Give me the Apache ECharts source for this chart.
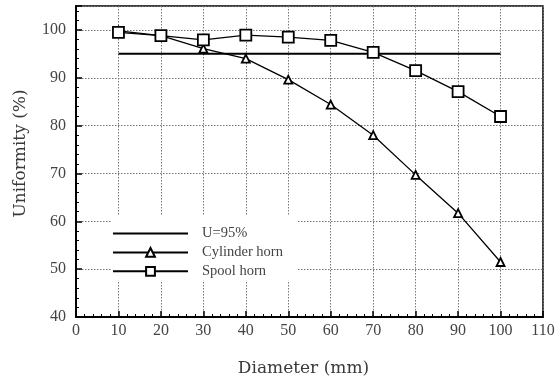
<!DOCTYPE html>
<html>
<head>
<meta charset="utf-8">
<script src="https://cdn.jsdelivr.net/npm/echarts@6/dist/echarts.min.js"></script>
<style>
  html, body { margin: 0; padding: 0; background: #fff; }
  #chart { width: 558px; height: 381px; }
</style>
</head>
<body>
<div id="chart"></div>
<script>
// Horn diameter (mm)
const diameters = [10, 20, 30, 40, 50, 60, 70, 80, 90, 100];
// Uniformity (%) for each horn type
const cylinderHorn = [99.8, 98.8, 96.1, 94.0, 89.6, 84.4, 78.0, 69.7, 61.7, 51.5];
const spoolHorn = [99.5, 98.8, 97.9, 98.9, 98.5, 97.8, 95.3, 91.5, 87.1, 81.9];
// Reference threshold line U = 95%
const thresholdX = [10, 100];
const thresholdY = [95, 95];

const seriesNames = ['U=95%', 'Cylinder horn', 'Spool horn'];
const serifFont = '"Liberation Serif", "DejaVu Serif", serif';
const titleFont = '"DejaVu Serif", "Liberation Serif", serif';
const textColor = '#444';

const chart = echarts.init(document.getElementById('chart'));

const pairs = (xs, ys) => xs.map((x, i) => [x, ys[i]]);

chart.setOption({
  animation: false,
  backgroundColor: '#fff',
  grid: {
    left: 76, right: 15, top: 6, bottom: 64,
    outerBoundsMode: 'none',
    show: true, borderColor: '#000', borderWidth: 1.5, backgroundColor: 'transparent'
  },
  legend: {
    orient: 'vertical',
    left: 111, top: 215,
    padding: [11, 14, 2, 1],
    backgroundColor: '#fff',
    itemWidth: 75, itemHeight: 11,
    itemGap: 3.9,
    data: [
      // plain line sample for the threshold
      { name: seriesNames[0], icon: 'path://M0,0H75V2H0Z', itemStyle: { color: '#000' } },
      { name: seriesNames[1] },
      { name: seriesNames[2] }
    ],
    textStyle: { fontFamily: serifFont, fontSize: 14.5, color: textColor, lineHeight: 11, padding: [0, 0, 0, 9] }
  },
  xAxis: {
    type: 'value', min: 0, max: 110, interval: 10,
    name: 'Diameter (mm)', nameLocation: 'middle', nameGap: 43,
    nameTextStyle: { fontFamily: titleFont, fontSize: 17, color: '#3a3a3a', padding: [0, 12, 0, 0] },
    axisLine: { show: true, lineStyle: { color: '#000', width: 2 } },
    axisTick: { show: true, inside: true, length: 6, lineStyle: { color: '#000', width: 1.5 } },
    minorTick: { show: true, splitNumber: 5, length: 3, lineStyle: { color: '#000', width: 1 } },
    axisLabel: { fontFamily: serifFont, fontSize: 16, color: textColor, margin: 6 },
    splitLine: { show: true, lineStyle: { color: '#777', type: [1.5, 1.5], width: 1 } }
  },
  yAxis: {
    type: 'value', min: 40, max: 105, interval: 10,
    name: 'Uniformity (%)', nameLocation: 'middle', nameGap: 47,
    nameTextStyle: { fontFamily: titleFont, fontSize: 17, color: '#3a3a3a', padding: [0, 0, 0, 16] },
    axisLine: { show: true, lineStyle: { color: '#000', width: 2 } },
    axisTick: { show: true, inside: true, length: 6, lineStyle: { color: '#000', width: 1.5 } },
    minorTick: { show: true, splitNumber: 5, length: 3, lineStyle: { color: '#000', width: 1 } },
    axisLabel: {
      fontFamily: serifFont, fontSize: 16, color: textColor, margin: 10,
      showMaxLabel: false
    },
    splitLine: { show: true, lineStyle: { color: '#777', type: [1.5, 1.5], width: 1 } }
  },
  series: [
    {
      name: seriesNames[0], type: 'line', data: pairs(thresholdX, thresholdY),
      symbol: 'none', lineStyle: { color: '#000', width: 2 },
      itemStyle: { color: '#000' }, z: 3
    },
    {
      name: seriesNames[1], type: 'line', data: pairs(diameters, cylinderHorn),
      symbol: 'triangle', symbolSize: 8,
      lineStyle: { color: '#000', width: 1.3 },
      itemStyle: { color: '#fff', borderColor: '#000', borderWidth: 1.8 }, z: 4
    },
    {
      name: seriesNames[2], type: 'line', data: pairs(diameters, spoolHorn),
      symbol: 'rect', symbolSize: 11,
      lineStyle: { color: '#000', width: 1.3 },
      itemStyle: { color: '#fff', borderColor: '#000', borderWidth: 1.8 }, z: 5
    }
  ]
});
</script>
</body>
</html>
